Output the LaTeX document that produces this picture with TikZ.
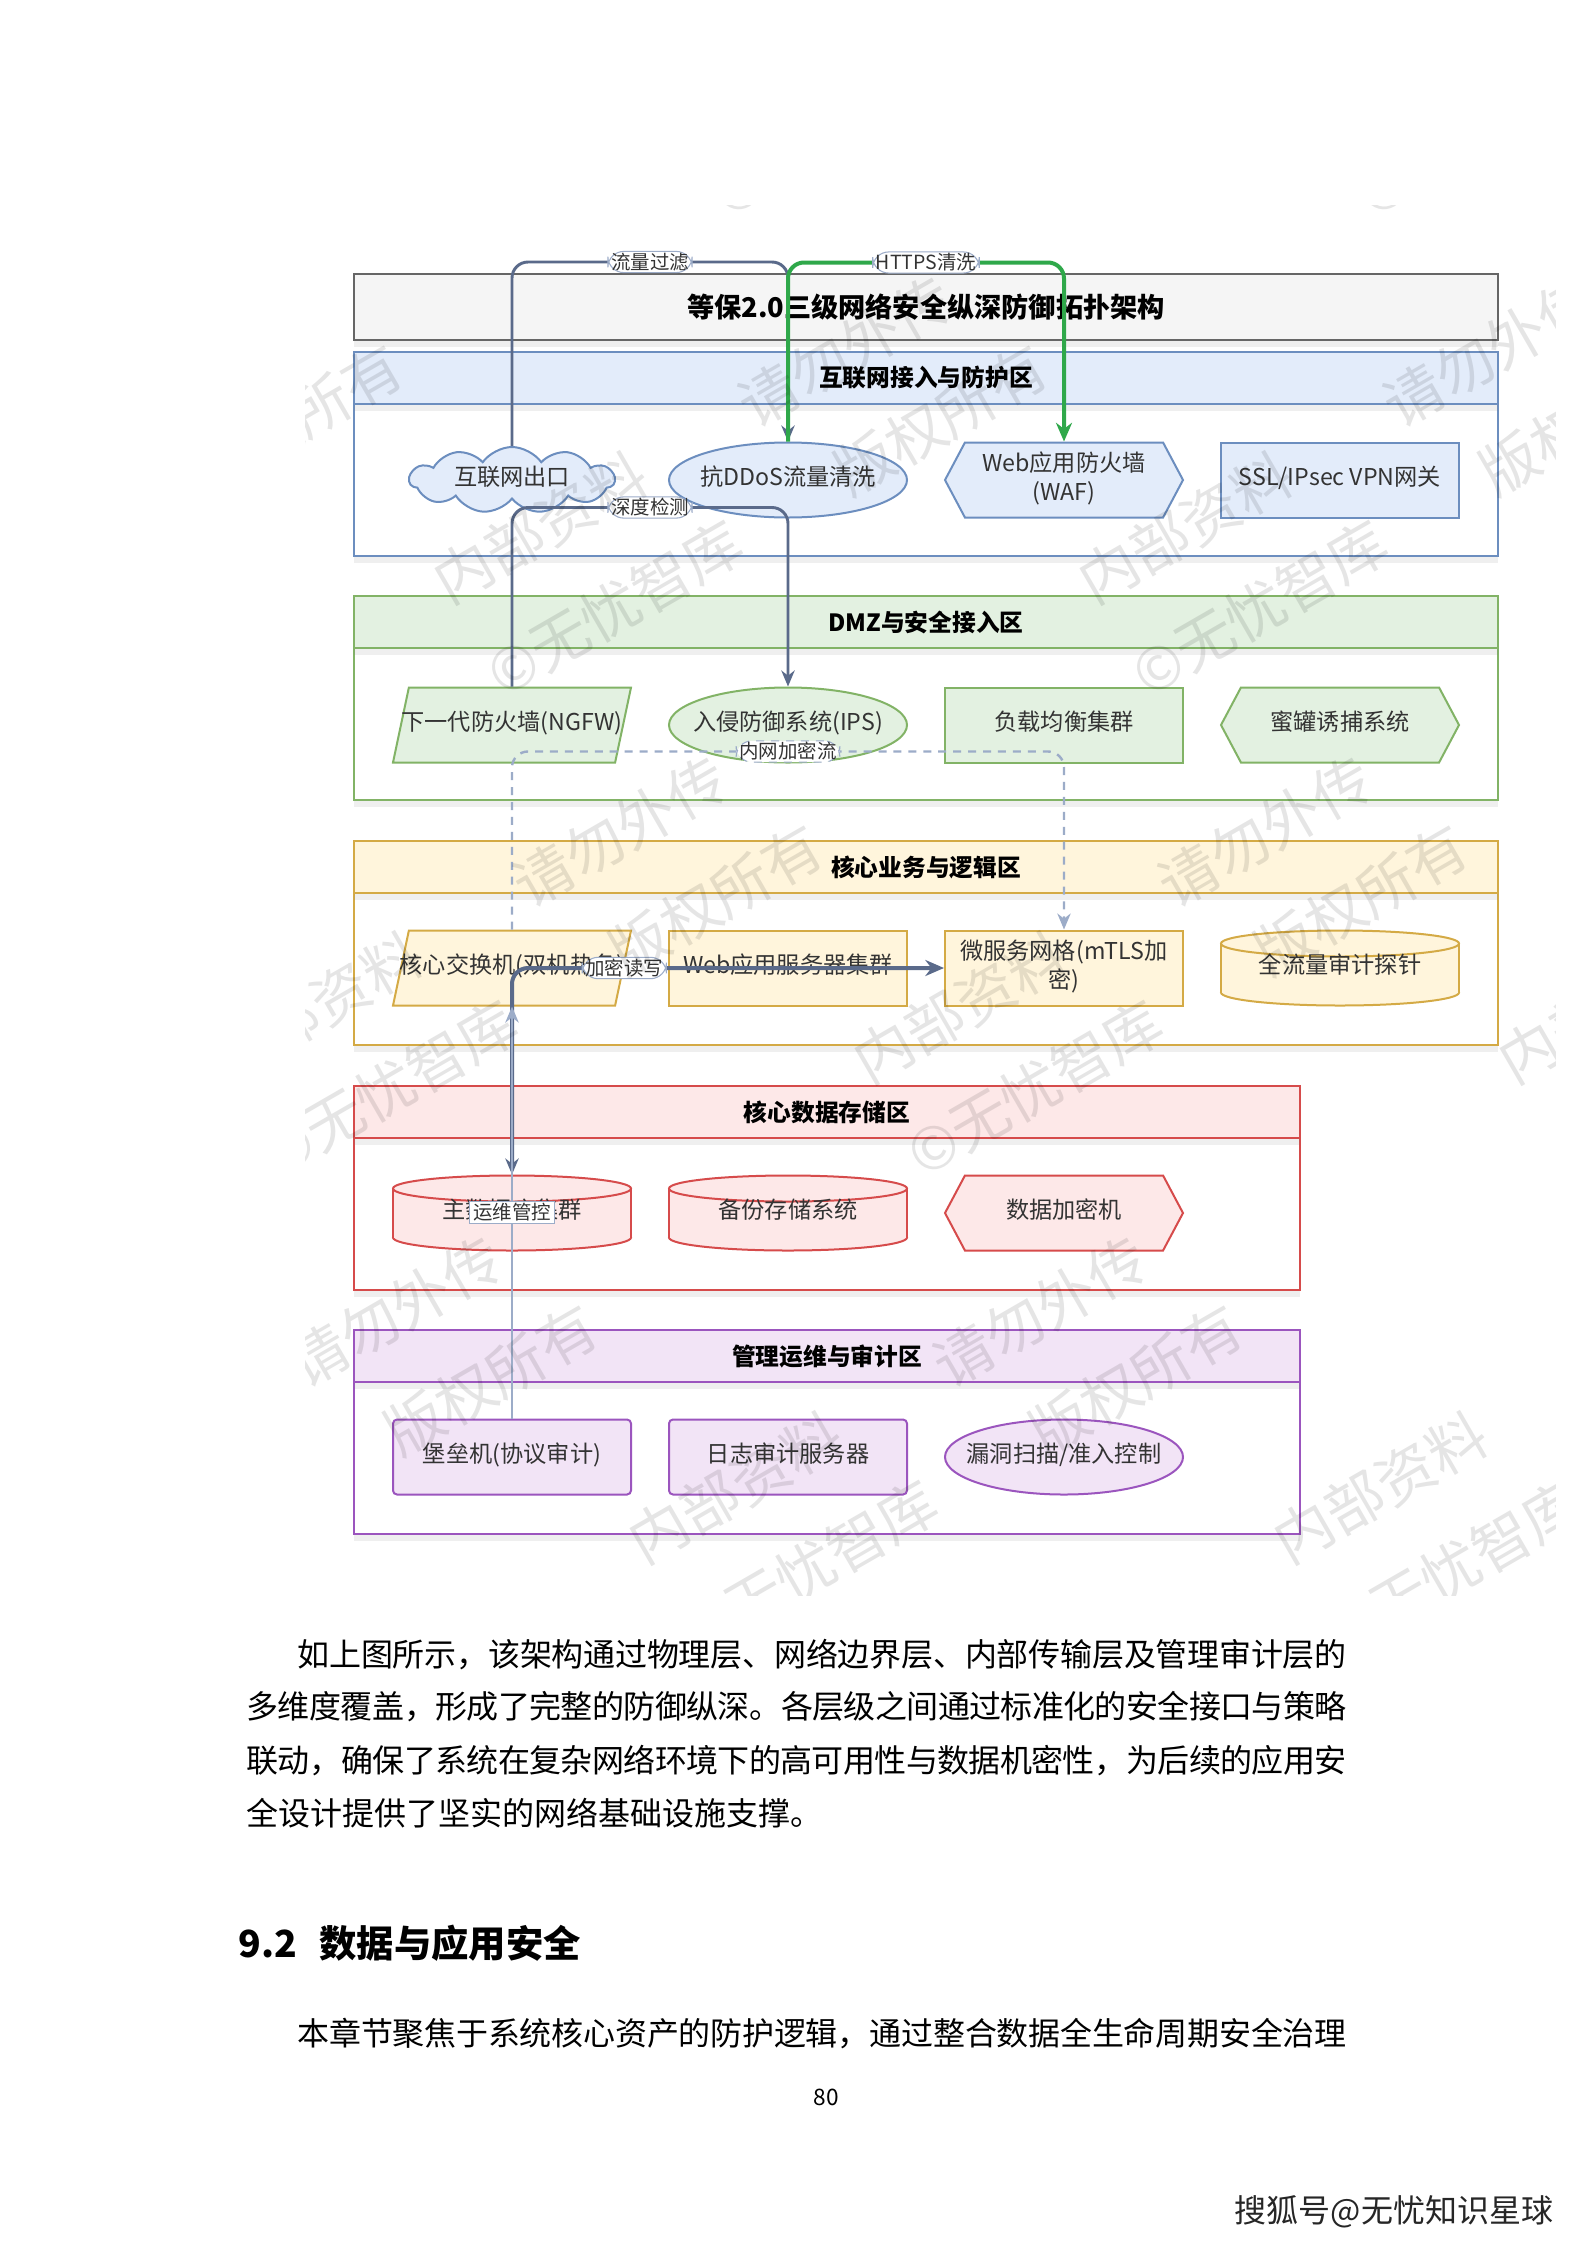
\documentclass[tikz,border=0pt]{standalone}
\usepackage{fontspec}
\setmainfont{Noto Sans CJK SC}
\usetikzlibrary{shapes.geometric,shapes.symbols,arrows.meta,shadows,positioning}
\XeTeXlinebreaklocale "zh"
\XeTeXlinebreakskip=0pt plus 2pt minus 0.6pt

\definecolor{blueF}{HTML}{E3ECFA}
\definecolor{blueD}{HTML}{6C8EBF}
\definecolor{greenF}{HTML}{E3F1E1}
\definecolor{greenD}{HTML}{82B366}
\definecolor{yellowF}{HTML}{FFF5DC}
\definecolor{yellowD}{HTML}{D4AA45}
\definecolor{redF}{HTML}{FDE8E8}
\definecolor{redD}{HTML}{D64B4B}
\definecolor{purpleF}{HTML}{F2E4F6}
\definecolor{purpleD}{HTML}{9B55BE}
\definecolor{titleF}{HTML}{F5F5F5}
\definecolor{titleD}{HTML}{666666}
\definecolor{slate}{HTML}{5A6A8A}
\definecolor{slateL}{HTML}{9CACC8}
\definecolor{okgreen}{HTML}{2FA84A}
\definecolor{txt}{HTML}{333333}

\newcommand\pxu{0.375pt}
\newcommand\ov[1]{\makebox[0pt]{\begin{tabular}{@{}c@{}}#1\end{tabular}}}
\newcommand\nodefont{\fontsize{8.7}{11.2}\selectfont}
\newcommand\headfont{\fontsize{8.9}{10}\selectfont\bfseries}
\newcommand\labfont{\fontsize{7.3}{8}\selectfont}
% upright cylinder: name, x, y, colour, text
\newcommand\drawcan[5]{%
  \node[cap=#4] (#1-bot) at (#2,#3+24.5) {};
  \fill[#4F] (#2-119,#3-24.5) rectangle (#2+119,#3+24.5);
  \draw[#4D, line width=0.75pt] (#2-119,#3-24.5) -- (#2-119,#3+24.5) (#2+119,#3-24.5) -- (#2+119,#3+24.5);
  \node[cap=#4] (#1-top) at (#2,#3-24.5) {};
  \node[base=#4, draw=none, fill=none] (#1) at (#2,#3) {\ov{#5}};
}

\begin{document}
\begin{tikzpicture}[x=0.375pt,y=-0.375pt,
    zone/.style={draw=#1D, fill=white, line width=0.9pt, minimum width=1144*\pxu, minimum height=204*\pxu, inner sep=0pt,
        drop shadow={shadow xshift=0pt, shadow yshift=-2.5pt, opacity=0.12}},
    zhead/.style={draw=#1D, fill=#1F, line width=0.9pt, minimum width=1144*\pxu, minimum height=52*\pxu, inner sep=0pt,
        font=\headfont, drop shadow={shadow xshift=0pt, shadow yshift=-2.5pt, opacity=0.12}},
    base/.style={minimum width=238*\pxu, minimum height=75*\pxu, inner sep=0pt, line width=0.75pt, text=txt, font=\nodefont, draw=#1D, fill=#1F},
    box/.style={base=#1, rectangle},
    rbox/.style={base=#1, rectangle, rounded corners=1.5pt},
    oval/.style={base=#1, ellipse},
    hexa/.style={base=#1, signal, signal to=west and east, signal pointer angle=124},
    para/.style={base=#1, trapezium, trapezium left angle=62, trapezium right angle=118, trapezium stretches body},
    cap/.style={base=#1, ellipse, minimum height=26*\pxu},
    puff/.style={base=#1, cloud, cloud puffs=11, cloud puff arc=110, aspect=3.2, minimum width=205*\pxu, minimum height=66*\pxu},
    flow/.style={draw=slate, line width=1.1pt, rounded corners=6pt, -{Stealth[length=6pt,width=5pt]}},
    okflow/.style={draw=okgreen, line width=1.5pt, rounded corners=6pt, -{Stealth[length=7pt,width=6pt]}},
    encflow/.style={draw=slateL, line width=0.9pt, dash pattern=on 3pt off 2.6pt, rounded corners=6pt, -{Stealth[length=6pt,width=5pt]}},
    rwflow/.style={draw=slate, line width=1.5pt, rounded corners=6pt, {Stealth[length=6pt,width=5pt]}-{Stealth[length=7pt,width=6pt]}},
    opsflow/.style={draw=slateL, line width=1.1pt, -{Stealth[length=6pt,width=5pt]}},
    elab/.style={draw=slateL, line width=0.4pt, fill=white, text=txt, font=\labfont, inner xsep=1.2pt, inner ysep=0.6pt},
    bodyline/.style={anchor=west, inner sep=0pt, font=\fontsize{12}{14}\selectfont, text=black, align=justify,
        execute at begin node={\parfillskip=0pt\relax}},
    wmark/.style={anchor=west, rotate=30, align=left, inner sep=0pt, text=black, opacity=0.1, font=\fontsize{22}{40}\selectfont}
]
\fill[white] (0,0) rectangle (1587,2245);
\useasboundingbox (0,0) rectangle (1587,2245);

% zones
\node[zone=blue] (z1) at (926,454) {};
\node[zone=green] (z2) at (926,698) {};
\node[zone=yellow] (z3) at (926,943) {};
\node[zone=red, minimum width=946*\pxu] (z4) at (827,1188) {};
\node[zone=purple, minimum width=946*\pxu] (z5) at (827,1432) {};
\node[zhead=blue, anchor=north] (h1) at (z1.north) {互联网接入与防护区};
\node[zhead=green, anchor=north] (h2) at (z2.north) {DMZ与安全接入区};
\node[zhead=yellow, anchor=north] (h3) at (z3.north) {核心业务与逻辑区};
\node[zhead=red, anchor=north, minimum width=946*\pxu] (h4) at (z4.north) {核心数据存储区};
\node[zhead=purple, anchor=north, minimum width=946*\pxu] (h5) at (z5.north) {管理运维与审计区};

% title
\node[draw=titleD, fill=titleF, line width=0.9pt, minimum width=1144*\pxu, minimum height=66*\pxu,
  drop shadow={shadow xshift=0pt, shadow yshift=-2.5pt, opacity=0.12},
  font=\fontsize{10.2}{12}\selectfont\bfseries] (title) at (926,307) {等保2.0三级网络安全纵深防御拓扑架构};

% internet access
\node[puff=blue] (inet) at (512,480) {\ov{互联网出口}};
\node[oval=blue] (ddos) at (788,480) {\ov{抗DDoS流量清洗}};
\node[hexa=blue] (waf) at (1064,480) {\ov{Web应用防火墙\\(WAF)}};
\node[box=blue] (vpn) at (1340,480) {\ov{SSL/IPsec VPN网关}};

% dmz
\node[para=green] (ngfw) at (512,725) {\ov{下一代防火墙(NGFW)}};
\node[oval=green] (ips) at (788,725) {\ov{入侵防御系统(IPS)}};
\node[box=green] (lb) at (1064,725) {\ov{负载均衡集群}};
\node[hexa=green] (pot) at (1340,725) {\ov{蜜罐诱捕系统}};

% core business
\node[para=yellow] (core) at (512,968) {\ov{核心交换机(双机热备)}};
\node[box=yellow] (webc) at (788,968) {\ov{Web应用服务器集群}};
\node[box=yellow] (mesh) at (1064,968) {\ov{微服务网格(mTLS加\\密)}};
\drawcan{probe}{1340}{968}{yellow}{全流量审计探针}

% data storage
\drawcan{db}{512}{1213}{red}{主数据库集群}
\drawcan{bak}{788}{1213}{red}{备份存储系统}
\node[hexa=red] (enc) at (1064,1213) {\ov{数据加密机}};

% management
\node[rbox=purple] (bast) at (512,1457) {\ov{堡垒机(协议审计)}};
\node[rbox=purple] (logs) at (788,1457) {\ov{日志审计服务器}};
\node[oval=purple] (scan) at (1064,1457) {\ov{漏洞扫描/准入控制}};

% connectors
\draw[flow] (inet.north) -- ++(0,-184) -| node[elab, pos=.25] {流量过滤} (ddos.north);
\draw[okflow] (ddos.north) -- ++(0,-179) -| node[elab, pos=.25] {HTTPS清洗} (waf.north);
\draw[flow] (ngfw.north) -- ++(0,-179) -| node[elab, pos=.25] {深度检测} (ips.north);
\draw[encflow] (core.north) -- ++(0,-178) -| node[elab, pos=.25] {内网加密流} (mesh.north);
\draw[rwflow] (db.north) |- node[elab, pos=.63] {加密读写} (mesh.west);
\draw[opsflow] (bast.north) -- node[elab] {运维管控} (core.south);

% page text
\node[bodyline, text width=1049*\pxu] (p1) at (297,1655) {如上图所示，该架构通过物理层、网络边界层、内部传输层及管理审计层的};
\node[bodyline, text width=1100*\pxu] (p2) at (246,1707) {多维度覆盖，形成了完整的防御纵深。各层级之间通过标准化的安全接口与策略};
\node[bodyline, text width=1100*\pxu] (p3) at (246,1761) {联动，确保了系统在复杂网络环境下的高可用性与数据机密性，为后续的应用安};
\node[anchor=west, inner sep=0pt, font=\fontsize{12}{14}\selectfont] (p4) at (246,1813) {全设计提供了坚实的网络基础设施支撑。};
\node[anchor=west, inner sep=0pt, font=\fontsize{14}{16}\selectfont\bfseries] (sec) at (238,1943) {9.2\hspace{0.6em}数据与应用安全};
\node[bodyline, text width=1049*\pxu] (q1) at (297,2034) {本章节聚焦于系统核心资产的防护逻辑，通过整合数据全生命周期安全治理};
\node[inner sep=0pt, font=\fontsize{8.5}{10}\selectfont] (pg) at (826,2097) {80};
\node[inner sep=0pt, text=black!85, font=\fontsize{12}{14}\selectfont] (sohu) at (1394,2212) {搜狐号@无忧知识星球};

% watermark
\begin{scope}
\clip (305,205) rectangle (1555,1595);
\foreach \i in {-2,...,2} {
  \foreach \j in {-1,...,2} {
    \node[wmark] (wm\i\j) at ({465+645*\i+420*\j},{633+480*\j}) {内部资料\hspace{2em}请勿外传\\©无忧智库\hspace{2em}版权所有};
  }
}
\end{scope}
\end{tikzpicture}
\end{document}
